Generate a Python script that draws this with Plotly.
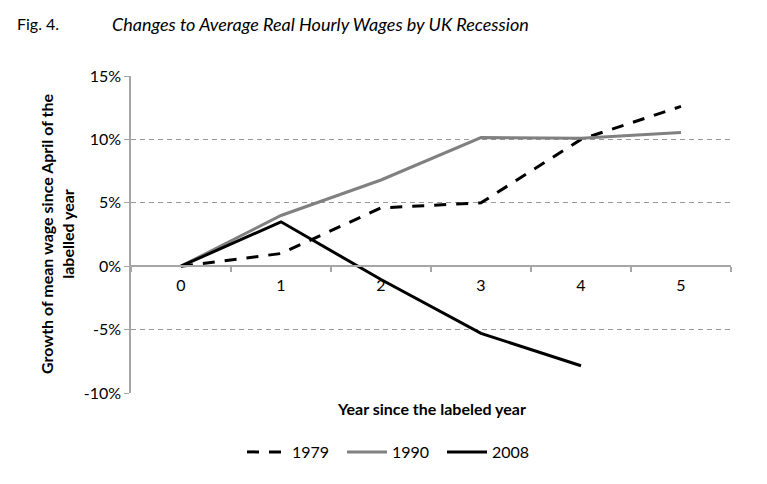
import plotly.graph_objects as go

years = [0, 1, 2, 3, 4, 5]
s1979 = [0.0, 1.0, 4.6, 5.0, 10.0, 12.6]
s1990 = [0.0, 4.0, 6.8, 10.15, 10.1, 10.55]
s2008 = [0.0, 3.5, -1.05, -5.3, -7.85]
y_ticks = [-10, -5, 0, 5, 10, 15]
y_tick_labels = ["-10%", "-5%", "0%", "5%", "10%", "15%"]

FONT = "Lato, Carlito, Calibri, sans-serif"

# page body has an 8px margin; compensate so positions match the reference
OFF = 8
W, H = 767 - 2 * OFF, 484 - 2 * OFF
L, T = 131 - OFF, 76 - OFF
PW, PH = 600, 317
R = W - L - PW
B = H - T - PH


def px(x_ref):
    return (x_ref - OFF - L) / PW


def py(y_ref):
    return (T + PH - (y_ref - OFF)) / PH


fig = go.Figure()
fig.add_trace(go.Scatter(x=years, y=s1979, name="1979", mode="lines",
                         line=dict(color="black", width=3, dash="12px,10px")))
fig.add_trace(go.Scatter(x=years, y=s1990, name="1990", mode="lines",
                         line=dict(color="#808080", width=3)))
fig.add_trace(go.Scatter(x=years[:len(s2008)], y=s2008, name="2008", mode="lines",
                         line=dict(color="black", width=3)))

fig.update_layout(
    width=W, height=H,
    margin=dict(l=L, r=R, t=T, b=B, autoexpand=False),
    paper_bgcolor="white", plot_bgcolor="white",
    font=dict(family=FONT, size=16, color="black"),
    showlegend=True,
    legend=dict(orientation="h", x=px(392), xanchor="center", y=py(452), yanchor="middle",
                font=dict(size=16), traceorder="normal", itemwidth=40,
                entrywidth=45),
    xaxis=dict(
        range=[-0.5, 5.5], tickmode="array", tickvals=years,
        ticktext=[str(v) for v in years], ticks="", showgrid=False,
        zeroline=False, showline=True, linecolor="#a6a6a6", linewidth=1.5,
        anchor="free", position=0.4, tickfont=dict(size=16),
        ticklabelstandoff=5,
        minor=dict(tickmode="array", tickvals=[-0.5, 0.5, 1.5, 2.5, 3.5, 4.5, 5.5],
                   ticks="outside", ticklen=5, tickcolor="#a6a6a6", tickwidth=1.5,
                   showgrid=False),
    ),
    yaxis=dict(
        range=[-10, 15], tickmode="array", tickvals=y_ticks, ticktext=y_tick_labels,
        showgrid=True, gridcolor="#999999", griddash="5px,4px", gridwidth=1,
        zeroline=False, showline=True, linecolor="#a6a6a6", linewidth=1.5,
        ticks="outside", ticklen=5, tickcolor="#a6a6a6", tickfont=dict(size=16),
    ),
    annotations=[
        dict(text="Fig. 4.", x=px(15), y=py(24), xref="paper", yref="paper",
             xanchor="left", yanchor="middle", showarrow=False, font=dict(size=16)),
        dict(text="<i>Changes to Average Real Hourly Wages by UK Recession</i>",
             x=px(110), y=py(24), xref="paper", yref="paper",
             xanchor="left", yanchor="middle", showarrow=False, font=dict(size=18)),
        dict(text="<b>Year since the labeled year</b>", x=px(431), y=py(408),
             xref="paper", yref="paper", xanchor="center", yanchor="middle",
             showarrow=False, font=dict(size=16)),
        dict(text="<b>Growth of mean wage since April of the<br>labelled year</b>",
             x=px(57), y=py(234), xref="paper", yref="paper", xanchor="center",
             yanchor="middle", textangle=-90, showarrow=False, font=dict(size=16)),
    ],
)

fig.write_html("out.html")
